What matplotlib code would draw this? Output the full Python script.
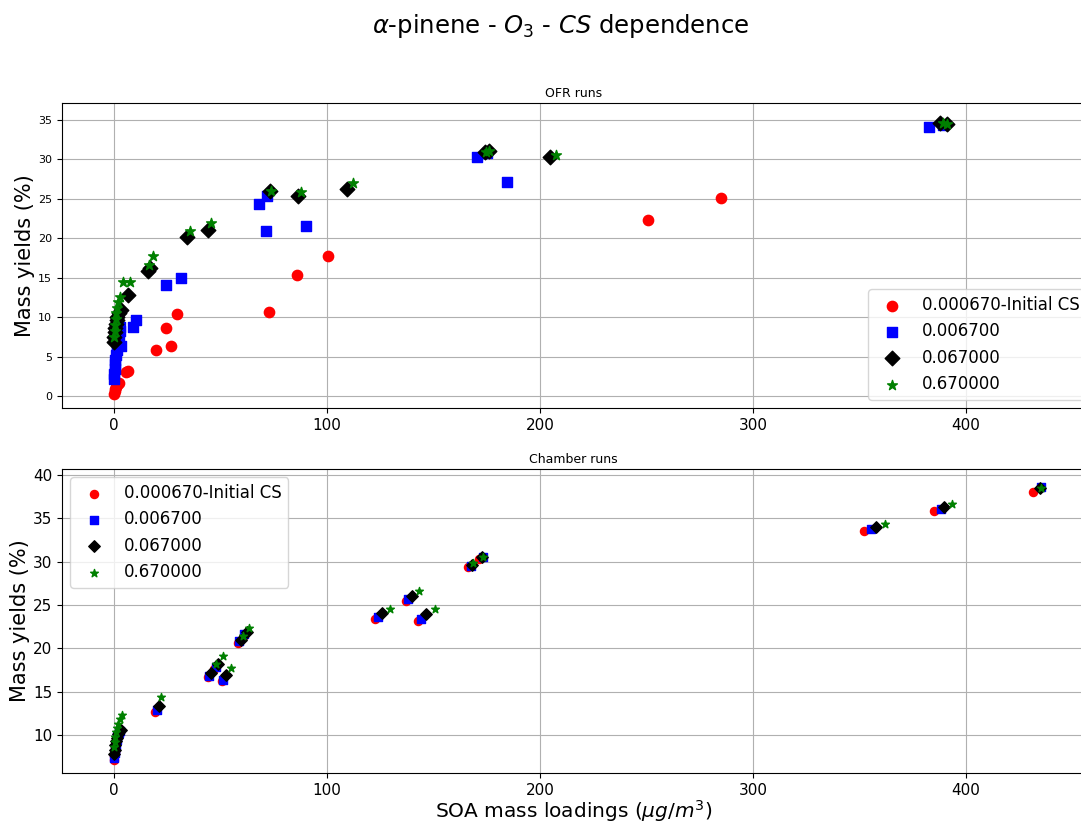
import matplotlib
matplotlib.use("Agg")
import matplotlib.pyplot as plt

labels = ["0.000670-Initial CS", "0.006700", "0.067000", "0.670000"]
colors = ["red", "blue", "black", "green"]
markers = ["o", "s", "D", "*"]

# ---- OFR runs (top) ----
ofr_red_x = [0.1, 0.3, 0.6, 1.0, 1.5, 2.2, 5.5, 6.7, 19.5, 24.4, 26.6, 29.4, 72.6, 86.0, 100.6, 250.9, 285.0]
ofr_red_y = [0.3, 0.6, 0.9, 1.2, 1.4, 1.7, 3.0, 3.2, 5.8, 8.6, 6.3, 10.4, 10.6, 15.3, 17.8, 22.3, 25.1]

ofr_blue_x = [0.1, 0.2, 0.3, 0.5, 0.7, 0.9, 1.2, 1.5, 2.0, 2.5, 3.0, 3.3, 2.8, 8.8, 10.3, 24.4, 31.3,
              68.2, 71.2, 71.7, 90.3, 170.2, 175.0, 184.3, 382.6, 389.0]
ofr_blue_y = [2.2, 2.8, 3.4, 4.0, 4.6, 5.2, 5.8, 6.4, 7.0, 7.6, 8.2, 6.3, 8.8, 8.8, 9.7, 14.1, 14.9,
              24.3, 20.9, 25.3, 21.6, 30.3, 30.8, 27.1, 34.15, 34.3]

ofr_black_x = [0.1, 0.2, 0.4, 0.6, 0.9, 1.2, 1.6, 2.2, 3.3, 6.7, 15.8, 16.9, 34.1, 44.0, 73.2, 86.5,
               109.2, 174.0, 176.0, 204.7, 388.0, 391.0]
ofr_black_y = [6.9, 7.5, 8.1, 8.6, 9.1, 9.6, 10.0, 10.5, 10.9, 12.8, 15.8, 16.2, 20.1, 21.0, 26.0, 25.4,
               26.3, 30.9, 31.1, 30.25, 34.6, 34.5]

ofr_green_x = [0.1, 0.3, 0.5, 0.8, 1.1, 1.5, 2.0, 2.6, 4.1, 7.5, 16.6, 18.1, 35.7, 45.5, 73.5, 88.0,
               112.3, 174.5, 176.0, 207.5, 389.0, 391.0]
ofr_green_y = [7.5, 8.3, 9.0, 9.8, 10.5, 11.2, 11.9, 12.6, 14.5, 14.5, 16.6, 17.7, 20.9, 21.9, 26.05, 25.9,
               27.05, 31.0, 31.1, 30.55, 34.6, 34.5]

# ---- Chamber runs (bottom) ----
ch_red_x = [0.0, 0.2, 0.4, 0.7, 1.0, 1.4, 1.9, 2.5, 19.2, 44.0, 47.0, 50.5, 58.0, 60.5,
            122.5, 137.1, 142.9, 166.4, 171.4, 352.1, 385.1, 431.3]
ch_red_y = [7.1, 7.6, 8.1, 8.6, 9.1, 9.6, 10.0, 10.4, 12.6, 16.65, 17.6, 16.2, 20.6, 21.3,
            23.35, 25.5, 23.2, 29.4, 30.25, 33.54, 35.85, 38.07]

ch_blue_x = [0.1, 0.3, 0.5, 0.8, 1.2, 1.6, 2.2, 2.9, 20.0, 44.6, 47.8, 51.3, 58.8, 61.2,
             124.1, 138.2, 144.1, 167.5, 173.1, 355.2, 388.3, 435.2]
ch_blue_y = [7.4, 7.9, 8.4, 8.9, 9.4, 9.9, 10.2, 10.5, 12.9, 16.8, 17.8, 16.4, 20.85, 21.6,
             23.6, 25.65, 23.4, 29.5, 30.55, 33.77, 36.1, 38.58]

ch_black_x = [0.1, 0.3, 0.6, 0.9, 1.3, 1.8, 2.4, 3.2, 21.3, 45.5, 49.0, 52.6, 59.5, 62.3,
              126.0, 139.8, 146.3, 167.9, 172.9, 357.7, 389.8, 434.9]
ch_black_y = [7.8, 8.3, 8.8, 9.3, 9.7, 10.1, 10.4, 10.6, 13.35, 17.2, 18.25, 16.9, 21.0, 21.9,
              24.05, 26.0, 23.95, 29.65, 30.5, 33.96, 36.35, 38.5]

ch_green_x = [0.2, 0.4, 0.7, 1.1, 1.6, 2.1, 2.8, 3.6, 21.9, 47.9, 51.3, 55.0, 60.7, 63.4,
              129.6, 143.2, 150.7, 168.7, 173.1, 361.9, 393.6, 435.2]
ch_green_y = [8.6, 9.2, 9.8, 10.3, 10.8, 11.3, 11.8, 12.3, 14.35, 18.2, 19.1, 17.75, 21.4, 22.4,
              24.55, 26.65, 24.5, 29.8, 30.55, 34.4, 36.65, 38.5]

x_ticks = [0, 100, 200, 300, 400]

W, H = 1081, 825
fig = plt.figure(figsize=(W / 100, H / 100), dpi=100)

x_lo, x_hi = -24.4, 456.0
left_px, px_per_unit = 114 - 24.4 * 2.13, 2.13
ax_left = left_px / W
ax_width = (x_hi - x_lo) * px_per_unit / W

ax1 = fig.add_axes([ax_left, 1 - 408 / H, ax_width, (408 - 103) / H])
ax2 = fig.add_axes([ax_left, 1 - 773 / H, ax_width, (773 - 469) / H])

top_sets = [(ofr_red_x, ofr_red_y), (ofr_blue_x, ofr_blue_y),
            (ofr_black_x, ofr_black_y), (ofr_green_x, ofr_green_y)]
bot_sets = [(ch_red_x, ch_red_y), (ch_blue_x, ch_blue_y),
            (ch_black_x, ch_black_y), (ch_green_x, ch_green_y)]

top_sizes = [55, 55, 55, 55]
bot_sizes = [34, 34, 34, 34]

for (xs, ys), c, m, lab, s in zip(top_sets, colors, markers, labels, top_sizes):
    ax1.scatter(xs, ys, c=c, marker=m, s=s, label=lab, zorder=3)
for (xs, ys), c, m, lab, s in zip(bot_sets, colors, markers, labels, bot_sizes):
    ax2.scatter(xs, ys, c=c, marker=m, s=s, label=lab, zorder=3)

ax1.set_xlim(x_lo, x_hi)
ax2.set_xlim(x_lo, x_hi)
ax1.set_ylim(-1.52, 37.15)
ax2.set_ylim(5.62, 40.69)
ax1.set_yticks(range(0, 36, 5))
ax2.set_yticks(range(10, 41, 5))
for ax in (ax1, ax2):
    ax.set_xticks(x_ticks)
    ax.grid(True, color="#b0b0b0", linewidth=0.8)
    ax.set_axisbelow(True)
    ax.tick_params(axis="x", labelsize=11)
    ax.set_ylabel("Mass yields (%)", fontsize=15, labelpad=2)
ax1.tick_params(axis="y", labelsize=8)
ax2.tick_params(axis="y", labelsize=11)

ax1.set_title("OFR runs", fontsize=9, pad=4)
ax2.set_title("Chamber runs", fontsize=9, pad=4)
ax2.set_xlabel(r"SOA mass loadings ($\mu g/m^3$)", fontsize=14.5, labelpad=0)

ax1.legend(loc="lower right", fontsize=12, bbox_to_anchor=(1.009, 0.0))
ax2.legend(loc="upper left", fontsize=12)

fig.suptitle(r"$\alpha$-pinene - $O_3$ - $CS$ dependence", fontsize=17.5, x=561 / W, y=0.985)

fig.savefig("out.png", dpi=100)
